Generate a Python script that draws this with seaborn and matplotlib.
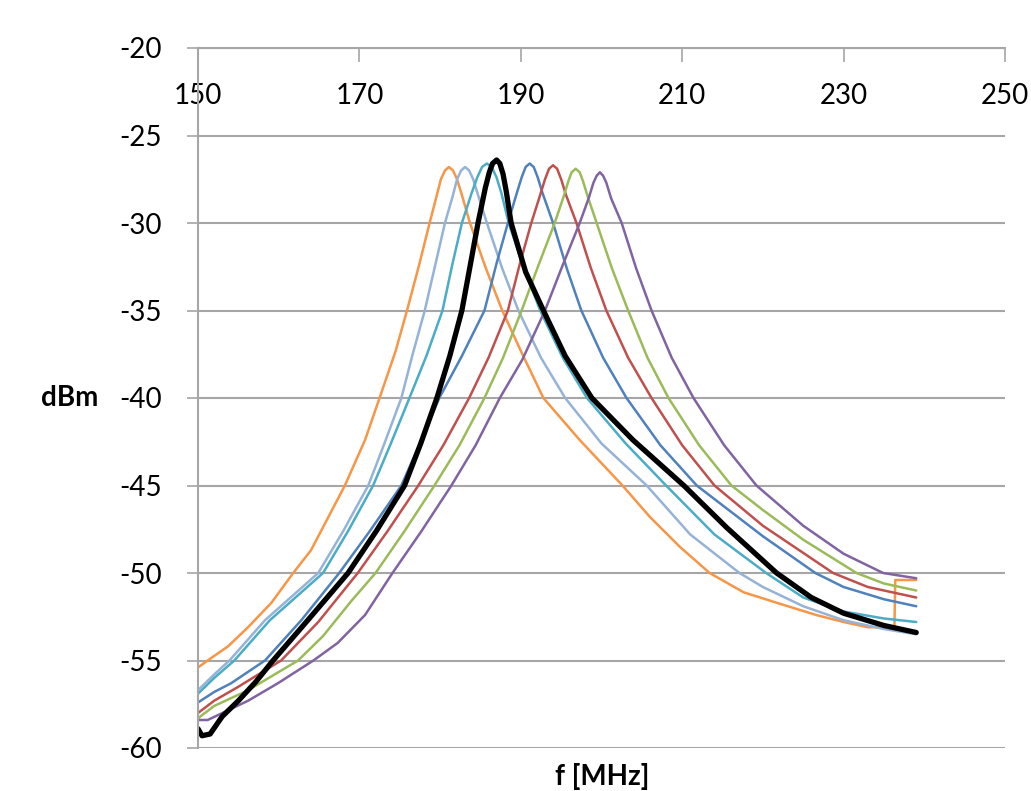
import numpy as np
import pandas as pd
import seaborn as sns
import matplotlib
matplotlib.use("Agg")
import matplotlib.pyplot as plt

sns.set_theme(style="white")
plt.rcParams['font.family'] = ['Lato', 'DejaVu Sans']
plt.rcParams['axes.unicode_minus'] = False

# ---- data (frequency MHz, level dBm) ----
orange_f = [150.0, 151.5, 153.7, 156.2, 159.1, 161.8, 164.0, 168.2, 170.7, 172.5, 174.5, 175.9, 177.4, 178.7,
            179.6, 180.1, 180.6, 181.1, 181.6, 182.1, 182.7, 183.7, 185.6, 187.7, 190.2, 192.8, 197.3, 202.6,
            206.0, 209.7, 213.4, 217.6, 221.7, 226.6, 230.0, 233.0, 236.3, 236.4, 239.0]
orange_db = [-55.4, -54.9, -54.2, -53.1, -51.7, -50.0, -48.7, -45.0, -42.4, -40.0, -37.3, -35.0, -32.4, -30.0,
             -28.4, -27.5, -27.0, -26.8, -27.0, -27.5, -28.4, -30.0, -32.5, -35.0, -37.5, -40.0, -42.4, -45.0,
             -46.8, -48.5, -50.0, -51.1, -51.7, -52.4, -52.8, -53.1, -53.1, -50.4, -50.4]

lightblue_f = [150.0, 152.0, 153.9, 158.3, 164.9, 168.0, 171.1, 173.1, 175.2, 176.6, 178.1, 179.4, 180.6, 181.6,
               182.1, 182.6, 183.1, 183.6, 184.1, 184.7, 185.8, 187.7, 189.7, 192.5, 195.5, 200.0, 205.6, 211.0,
               217.1, 220.0, 225.0, 230.0, 235.0, 239.0]
lightblue_db = [-56.7, -55.8, -55.0, -52.7, -50.0, -47.6, -45.0, -42.6, -40.0, -37.5, -35.0, -32.4, -30.0, -28.4,
                -27.5, -27.0, -26.8, -27.0, -27.5, -28.4, -30.0, -32.6, -35.0, -37.7, -40.0, -42.6, -45.0, -47.8,
                -50.0, -50.8, -51.9, -52.7, -53.2, -53.5]

teal_f = [150.0, 152.0, 154.5, 158.9, 165.5, 168.6, 171.7, 173.9, 176.2, 178.3, 180.3, 181.5, 182.7, 183.9,
          184.6, 185.2, 185.8, 186.4, 187.0, 187.6, 188.5, 190.4, 192.4, 195.2, 198.2, 203.0, 208.0, 214.0,
          220.4, 225.0, 230.0, 235.0, 239.0]
teal_db = [-56.9, -56.0, -55.0, -52.7, -50.0, -47.6, -45.0, -42.6, -40.0, -37.6, -35.0, -32.4, -30.0, -28.3,
           -27.4, -26.8, -26.6, -26.8, -27.4, -28.3, -30.0, -32.6, -35.0, -37.7, -40.0, -42.6, -45.0, -47.8,
           -50.0, -51.4, -52.2, -52.6, -52.8]

blue_f = [150.0, 152.0, 154.1, 158.3, 162.8, 167.5, 171.3, 175.2, 177.5, 179.9, 182.7, 185.5, 187.0, 188.4,
          189.5, 190.1, 190.6, 191.1, 191.6, 192.1, 192.7, 194.0, 195.7, 197.5, 200.2, 203.1, 207.3, 211.8,
          220.0, 226.5, 230.0, 235.0, 239.0]
blue_db = [-57.4, -56.8, -56.3, -55.0, -52.7, -50.0, -47.6, -45.0, -42.6, -40.0, -37.6, -35.0, -32.3, -30.0,
           -28.3, -27.4, -26.8, -26.6, -26.8, -27.4, -28.3, -30.0, -32.6, -35.0, -37.7, -40.0, -42.7, -45.0,
           -47.9, -50.0, -50.8, -51.5, -51.9]

red_f = [150.0, 152.0, 155.0, 160.3, 164.9, 169.8, 173.5, 177.3, 180.4, 183.6, 186.0, 188.4, 189.9, 191.3,
         192.4, 193.0, 193.5, 194.0, 194.5, 195.0, 195.6, 196.9, 198.7, 200.6, 203.3, 206.2, 210.0, 214.0,
         220.0, 228.7, 233.0, 239.0]
red_db = [-58.0, -57.3, -56.5, -55.0, -52.8, -50.0, -47.6, -45.0, -42.7, -40.0, -37.7, -35.0, -32.3, -30.0,
          -28.4, -27.5, -26.9, -26.7, -26.9, -27.5, -28.4, -30.0, -32.6, -35.0, -37.7, -40.0, -42.7, -45.0,
          -47.3, -50.0, -50.8, -51.4]

green_f = [150.0, 152.0, 156.2, 162.4, 165.5, 169.0, 172.0, 175.6, 179.3, 182.4, 185.5, 187.8, 190.1, 192.2,
           194.2, 195.3, 195.9, 196.3, 196.8, 197.3, 197.7, 198.3, 199.4, 201.3, 203.3, 205.7, 208.3, 212.1,
           216.1, 220.0, 225.0, 231.6, 235.0, 239.0]
green_db = [-58.3, -57.6, -56.7, -55.0, -53.6, -51.6, -50.0, -47.6, -45.0, -42.7, -40.0, -37.7, -35.0, -32.4,
            -30.0, -28.5, -27.6, -27.1, -26.9, -27.1, -27.6, -28.5, -30.0, -32.6, -35.0, -37.7, -40.0, -42.7,
            -45.0, -46.4, -48.1, -50.0, -50.6, -51.0]

purple_f = [150.0, 151.2, 156.2, 159.9, 164.3, 167.3, 170.7, 174.1, 177.7, 181.4, 184.4, 187.4, 190.2, 193.0,
            195.2, 197.3, 198.4, 199.0, 199.4, 199.8, 200.2, 200.6, 201.2, 202.5, 204.3, 206.2, 208.7, 211.4,
            215.2, 219.2, 225.0, 230.0, 234.9, 239.0]
purple_db = [-58.4, -58.4, -57.3, -56.3, -55.0, -54.0, -52.4, -50.0, -47.6, -45.0, -42.7, -40.0, -37.8, -35.0,
             -32.4, -30.0, -28.6, -27.7, -27.3, -27.1, -27.3, -27.7, -28.6, -30.0, -32.6, -35.0, -37.7, -40.0,
             -42.7, -45.0, -47.3, -48.9, -50.0, -50.3]

black_f = [150.0, 150.5, 151.5, 153.0, 155.0, 157.2, 159.3, 163.6, 168.6, 172.1, 175.6, 177.6, 179.6, 181.2,
           182.7, 183.7, 184.7, 185.6, 186.1, 186.5, 187.0, 187.4, 187.8, 188.2, 188.8, 190.6, 192.8, 195.5,
           198.8, 203.9, 210.2, 215.5, 221.7, 226.0, 230.0, 235.0, 239.0]
black_db = [-58.9, -59.3, -59.2, -58.2, -57.3, -56.2, -55.0, -52.7, -50.0, -47.6, -45.0, -42.6, -40.0, -37.6,
            -35.0, -32.5, -30.0, -28.0, -27.1, -26.6, -26.4, -26.6, -27.2, -28.2, -30.0, -32.8, -35.0, -37.6,
            -40.0, -42.4, -45.0, -47.4, -50.0, -51.4, -52.3, -53.0, -53.4]

x_ticks = [150, 170, 190, 210, 230, 250]
y_ticks = [-60, -55, -50, -45, -40, -35, -30, -25, -20]

series = {
    "orange": (orange_f, orange_db, "#F79646"),
    "lightblue": (lightblue_f, lightblue_db, "#95B3D7"),
    "teal": (teal_f, teal_db, "#4BACC6"),
    "blue": (blue_f, blue_db, "#4F81BD"),
    "red": (red_f, red_db, "#C0504D"),
    "green": (green_f, green_db, "#9BBB59"),
    "purple": (purple_f, purple_db, "#8064A2"),
}

rows = []
for name, (fs, dbs, _) in series.items():
    for f, d in zip(fs, dbs):
        rows.append({"series": name, "f": f, "dBm": d})
df = pd.DataFrame(rows)
palette = {k: v[2] for k, v in series.items()}
df_black = pd.DataFrame({"f": black_f, "dBm": black_db})

fig = plt.figure(figsize=(10.31, 7.91), dpi=100)
ax = fig.add_axes([198 / 1031, 43 / 791, 807 / 1031, 700 / 791])

sns.lineplot(data=df, x="f", y="dBm", hue="series", palette=palette,
             estimator=None, sort=False, units="series", legend=False,
             linewidth=1.8, ax=ax)
sns.lineplot(data=df_black, x="f", y="dBm", color="black", estimator=None,
             sort=False, linewidth=3.8, ax=ax)
for ln in ax.get_lines():
    ln.set_solid_joinstyle("round")

ax.set_xlim(150, 250)
ax.set_ylim(-60, -20)
ax.set_xticks(x_ticks)
ax.set_yticks(y_ticks)
ax.set_xlabel("")
ax.set_ylabel("")

grid_c = "#A6A6A6"
ax.yaxis.grid(True, color=grid_c, linewidth=1.5)
ax.xaxis.grid(False)
for s in ["right", "bottom"]:
    ax.spines[s].set_visible(False)
for s in ["left", "top"]:
    ax.spines[s].set_visible(True)
    ax.spines[s].set_color(grid_c)
    ax.spines[s].set_linewidth(1.5)

ax.xaxis.set_ticks_position("top")
ax.tick_params(axis="x", top=True, bottom=False, labeltop=True, labelbottom=False,
               direction="in", length=10, width=1.2, color=grid_c, pad=-44,
               labelsize=20, labelcolor="black")
ax.tick_params(axis="y", left=True, right=False, direction="out", length=8,
               width=1.2, color=grid_c, pad=18, labelsize=20, labelcolor="black")

fig.text(98 / 1031, 1 - 398 / 791, "dBm", ha="right", va="center",
         fontsize=20, fontweight="bold", color="black")
fig.text(602 / 1031, 1 - 763 / 791, "f [MHz]", ha="center", va="top",
         fontsize=20, fontweight="bold", color="black")

fig.savefig("out.png", dpi=100)
